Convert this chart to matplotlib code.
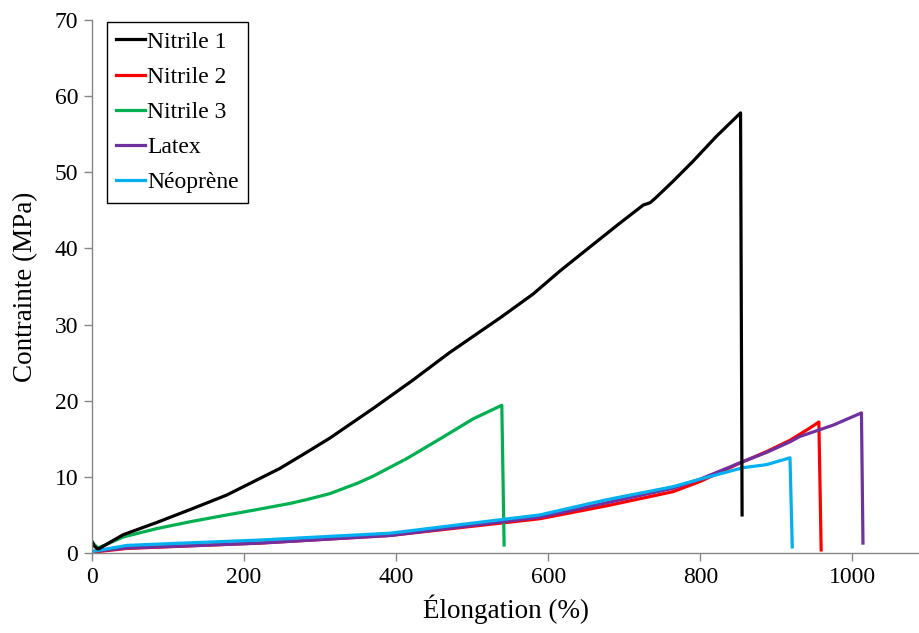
import matplotlib
matplotlib.use("Agg")
import matplotlib.pyplot as plt

plt.rcParams['font.family'] = ['Liberation Serif', 'DejaVu Serif']

# Nitrile 1
n1_x = [0, 3, 8, 41, 85, 129, 177, 217, 247, 282, 313, 370, 422, 470, 537, 580, 615, 655, 694, 725, 734, 742, 764, 790, 821, 853, 855]
n1_y = [1.5, 0.9, 0.5, 2.4, 4.0, 5.7, 7.6, 9.6, 11.1, 13.2, 15.1, 19.0, 22.7, 26.3, 30.9, 34.0, 37.0, 40.2, 43.3, 45.7, 46.0, 46.7, 48.8, 51.4, 54.7, 57.8, 5.0]

# Nitrile 2
n2_x = [0, 46, 133, 221, 392, 589, 677, 764, 800, 852, 887, 918, 944, 956, 959]
n2_y = [0.1, 0.6, 0.95, 1.3, 2.3, 4.5, 6.2, 8.05, 9.4, 11.8, 13.3, 14.8, 16.4, 17.2, 0.4]

# Nitrile 3
n3_x = [0, 3, 8, 41, 85, 129, 172, 217, 260, 282, 313, 350, 370, 414, 458, 501, 539, 542]
n3_y = [1.5, 1.1, 0.65, 2.1, 3.2, 4.1, 4.9, 5.7, 6.5, 7.0, 7.8, 9.2, 10.1, 12.4, 15.0, 17.6, 19.4, 1.05]

# Latex
lx_x = [0, 46, 133, 221, 392, 589, 677, 764, 800, 856, 887, 918, 931, 975, 1012, 1014]
lx_y = [0.2, 0.65, 0.96, 1.3, 2.3, 4.7, 6.6, 8.5, 9.7, 12.0, 13.2, 14.6, 15.3, 16.8, 18.4, 1.3]

# Néoprène
ne_x = [0, 46, 133, 221, 392, 589, 677, 764, 800, 856, 887, 918, 921]
ne_y = [0.2, 1.0, 1.35, 1.7, 2.6, 5.0, 7.0, 8.7, 9.7, 11.2, 11.6, 12.5, 0.8]

fig = plt.figure(figsize=(9.2, 6.33), dpi=100)
ax = fig.add_axes([0.1, 0.1264, 0.9, 0.842])

lw = 2.3
h1, = ax.plot(n1_x, n1_y, color='#000000', lw=lw, label='Nitrile 1', zorder=2.4)
h2, = ax.plot(n2_x, n2_y, color='#FF0000', lw=lw, label='Nitrile 2', zorder=2.0)
h3, = ax.plot(n3_x, n3_y, color='#00B050', lw=lw, label='Nitrile 3', zorder=2.05)
h4, = ax.plot(lx_x, lx_y, color='#7030A0', lw=lw, label='Latex', zorder=2.2)
h5, = ax.plot(ne_x, ne_y, color='#00B0F0', lw=lw, label='Néoprène', zorder=2.3)

ax.set_xlim(0, 1089)
ax.set_ylim(0, 70)
ax.set_xticks([0, 200, 400, 600, 800, 1000])
ax.set_yticks(range(0, 71, 10))

for s in ['top', 'right']:
    ax.spines[s].set_visible(False)
for s in ['left', 'bottom']:
    ax.spines[s].set_color('#868686')
    ax.spines[s].set_linewidth(1.0)
ax.tick_params(direction='out', length=6, width=1.0, color='#868686',
               labelsize=17, pad=4)

ax.set_xlabel('Élongation (%)', fontsize=19.5, labelpad=5)
ax.set_ylabel('Contrainte (MPa)', fontsize=19.5, labelpad=12)

leg = ax.legend(handles=[h1, h2, h3, h4, h5], loc='upper left',
                bbox_to_anchor=(0.018, 0.997), fontsize=17, frameon=True,
                fancybox=False, edgecolor='black', framealpha=1,
                handlelength=1.2, handletextpad=0.1, labelspacing=0.58,
                borderpad=0.4, borderaxespad=0.0)
leg.get_frame().set_linewidth(1.0)

fig.savefig('out.png', dpi=100)
